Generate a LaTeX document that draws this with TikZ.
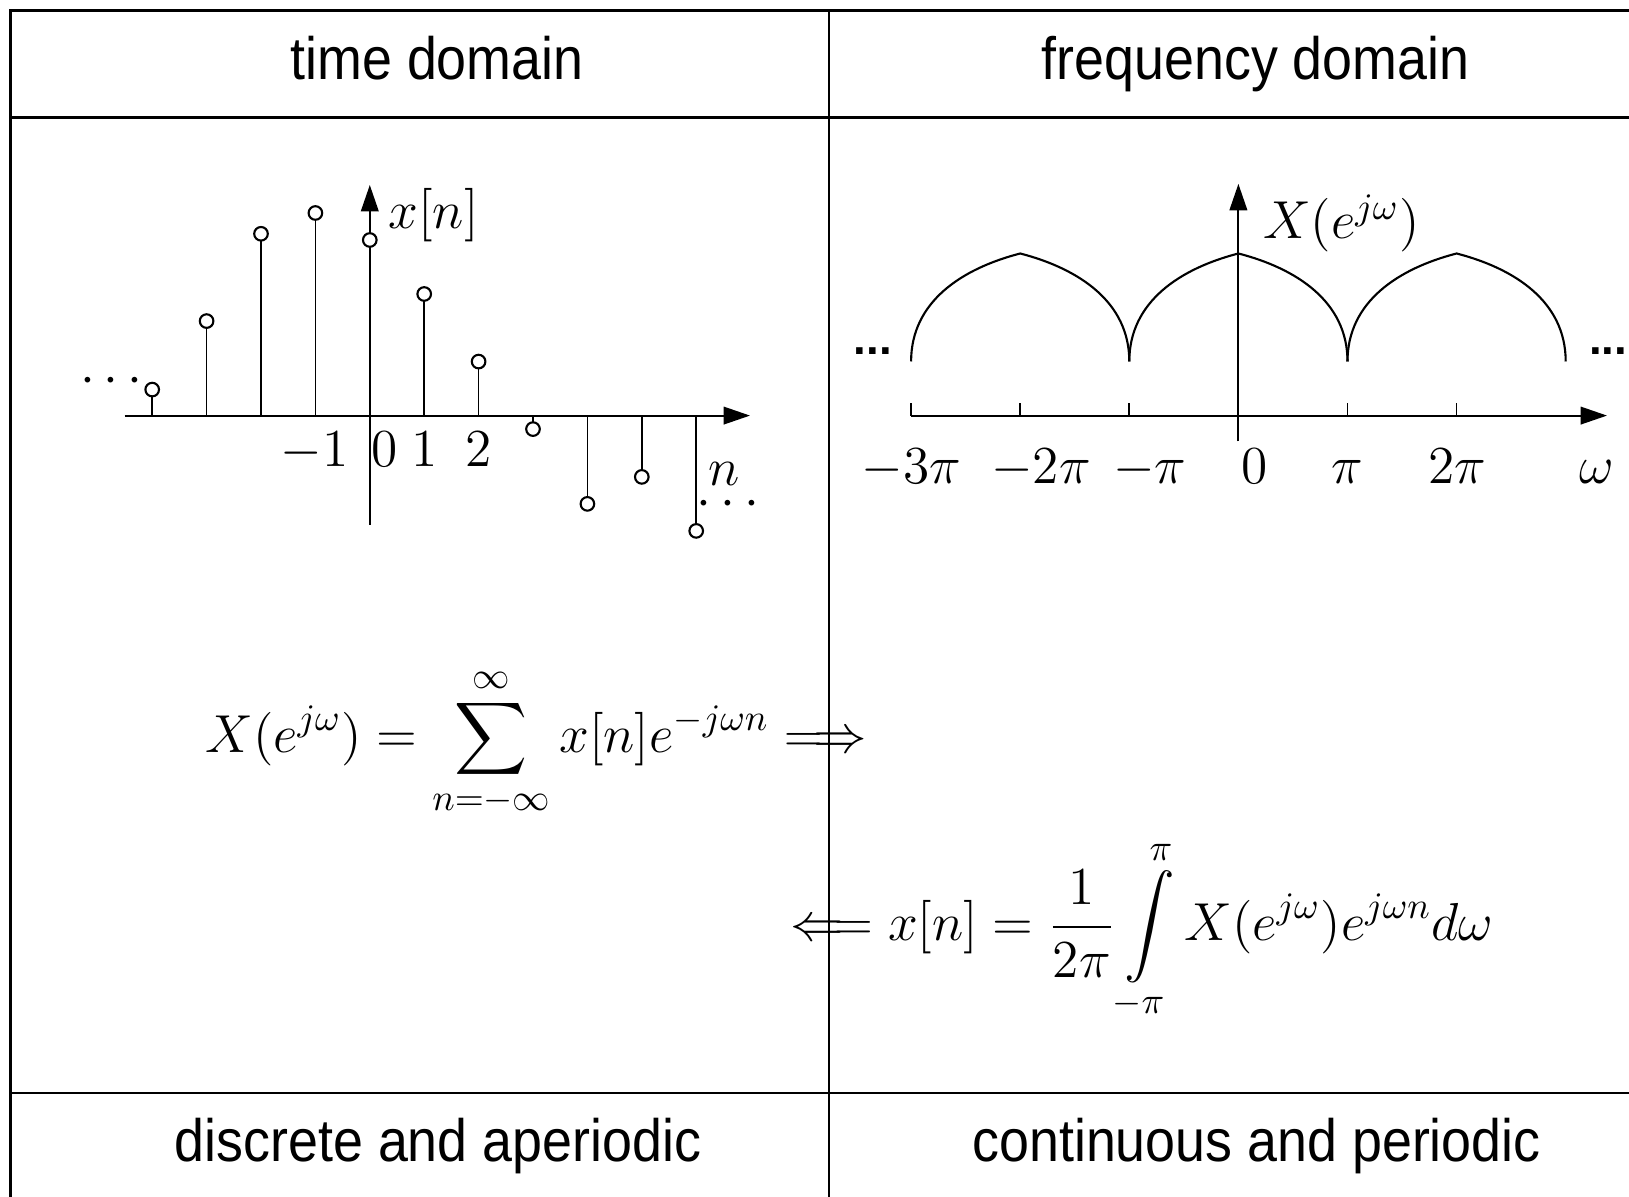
\RequirePackage{fix-cm}
\documentclass[tikz,border=0pt]{standalone}
\usepackage{amsmath}
\usepackage{fontspec}
\usetikzlibrary{arrows.meta}
\newfontfamily\tablefont{Liberation Sans}
\newcommand{\cellfont}{\tablefont\fontsize{17}{20}\selectfont}
\newcommand{\squeeze}[1]{\scalebox{0.9}[1]{#1}}

\begin{document}
\begin{tikzpicture}[x=0.01cm, y=0.01cm,
  frame/.style={line width=0.7pt},
  divider/.style={line width=0.45pt},
  axis/.style={line width=0.55pt, -{Triangle[length=7.5pt,width=5pt]}},
  stem/.style={line width=0.5pt},
  cell/.style={anchor=base, inner sep=0pt, font=\cellfont},
  lbl/.style={inner sep=0pt, font=\fontsize{15.2}{18}\selectfont},
  formula/.style={inner sep=0pt, anchor=west, font=\fontsize{15.2}{18}\selectfont}]
\useasboundingbox (0,0) rectangle (1629,1197);

% table
\draw[frame] (10.4,0) -- (10.4,1186.6) -- (1629,1186.6);
\draw[frame] (10.4,1079.6) -- (1629,1079.6);
\draw[frame] (10.4,104) -- (1629,104);
\draw[divider] (829,0) -- (829,1186.6);

\node[cell] (time) at (437,1117) {\squeeze{time domain}};
\node[cell] (freq) at (1255.5,1117) {\squeeze{frequency domain}};
\node[cell] (discrete) at (438,35.5) {\squeeze{discrete and aperiodic}};
\node[cell] (continuous) at (1256.6,35.5) {\squeeze{continuous and periodic}};

% x[n]
\begin{scope}[shift={(369.8,781.4)}]
\draw[axis] (-245.1,0) -- (380.2,0);
\draw[axis] (0,-109) -- (0,230.6);
\foreach \k/\v in {-4/26, -3/94.5, -2/181.8, -1/202.6, 0/175.6, 1/121.6, 2/54, 3/-13.5, 4/-88.3, 5/-61.3, 6/-115.3} {
  \draw[stem] (54.4*\k,0) -- (54.4*\k,\v);
  \draw[line width=0.6pt, fill=white] (54.4*\k,\v) circle[radius=6.8];
}
\node[lbl, anchor=west] (xn) at (18,200.6) {$x[n]$};
\foreach \x/\t [count=\i] in {-55/-1, 14.6/0, 55.1/1, 109/2}
  \node[lbl, anchor=base] (n\i) at (\x,-50.9) {$\t$};
\node[lbl, anchor=base] (nlab) at (354.3,-69.5) {$n$};
\node[lbl] (ldots) at (-254,34.3) {$\cdots$};
\node[lbl] (rdots) at (362.6,-89.3) {$\cdots$};
\end{scope}

% X(e^jw)
\begin{scope}[shift={(1238.4,781.4)}]
\draw[axis] (-327.3,0) -- (368.6,0);
\draw[axis] (0,-25.9) -- (0,231.7);
\foreach \k in {-3,-2,-1,1,2}
  \draw[stem] (109.1*\k,0) -- (109.1*\k,12.5);
\foreach \k in {-2,0,2}
  \draw[line width=0.6pt] (109.1*\k-109.1,54.1) .. controls +(0,60) and +(-58,-15) .. (109.1*\k,162.1)
    .. controls +(58,-15) and +(0,60) .. (109.1*\k+109.1,54.1);
\foreach \x/\t [count=\i] in {-327.3/-3\pi, -197.4/-2\pi, -88.4/-\pi, 16.6/0, 109.1/\pi, 219.2/2\pi, 358.4/\omega}
  \node[lbl, anchor=base] (w\i) at (\x,-67.5) {$\t$};
\node[lbl, anchor=west] (Xlab) at (23.9,192.2) {$X(e^{j\omega})$};
\node[inner sep=0pt, font=\tablefont\bfseries\fontsize{13}{15}\selectfont] (lmore) at (-365.7,64.4) {...};
\node[inner sep=0pt, font=\tablefont\bfseries\fontsize{13}{15}\selectfont] (rmore) at (369.8,64.4) {...};
\end{scope}

% transform pair
\node[formula] (dtft) at (204.7,454.2)
{$\displaystyle X(e^{j\omega}) = \sum_{n=-\infty}^{\infty} x[n]e^{-j\omega n} \Longrightarrow$};
\node[formula] (idtft) at (789.6,266.2)
{$\displaystyle \Longleftarrow x[n] = \frac{1}{2\pi}\int\limits_{-\pi}^{\pi} X(e^{j\omega})e^{j\omega n}d\omega$};
\end{tikzpicture}
\end{document}
